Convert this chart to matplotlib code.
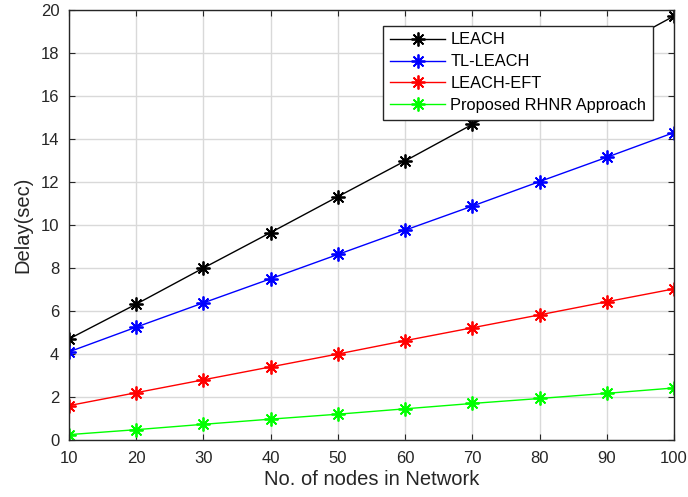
import matplotlib
matplotlib.use("Agg")
import matplotlib.pyplot as plt

plt.rcParams['font.family'] = ['Liberation Sans', 'DejaVu Sans']

nodes = [10, 20, 30, 40, 50, 60, 70, 80, 90, 100]
leach = [4.7, 6.32, 8.0, 9.65, 11.32, 12.98, 14.68, 16.35, 18.02, 19.72]
tl_leach = [4.1, 5.25, 6.38, 7.5, 8.63, 9.76, 10.88, 12.02, 13.15, 14.3]
leach_eft = [1.6, 2.2, 2.8, 3.4, 4.0, 4.62, 5.22, 5.82, 6.43, 7.03]
rhnr = [0.25, 0.48, 0.73, 0.97, 1.2, 1.45, 1.7, 1.93, 2.17, 2.42]

series = [
    ("LEACH", leach, "black"),
    ("TL-LEACH", tl_leach, "blue"),
    ("LEACH-EFT", leach_eft, "red"),
    ("Proposed RHNR Approach", rhnr, "#00ff00"),
]

# eight-armed asterisk marker
asterisk = (8, 2, 0)

fig = plt.figure(figsize=(6.88, 4.97), dpi=100)
ax = fig.add_axes([0.1003, 0.1147, 0.8794, 0.8652])

for label, vals, color in series:
    ax.plot(nodes, vals, color=color, marker=asterisk, markersize=10, linewidth=1,
            markeredgewidth=1.3, label=label)

ax.set_xlim(10, 100)
ax.set_ylim(0, 20)
ax.set_xticks(range(10, 101, 10))
ax.set_yticks(range(0, 21, 2))
ax.grid(True, color='#d9d9d9', linewidth=1)
ax.set_axisbelow(True)
ax.tick_params(direction='in', top=True, right=True, labelsize=12,
               colors='#262626', length=4)
ax.tick_params(axis='x', pad=8)
ax.tick_params(axis='y', pad=7)
for s in ax.spines.values():
    s.set_color('#262626')
    s.set_linewidth(1)
ax.set_xlabel("No. of nodes in Network", fontsize=14.5, color='#262626', labelpad=3)
ax.set_ylabel("Delay(sec)", fontsize=14.5, color='#262626', labelpad=6)

leg = ax.legend(loc='upper right', bbox_to_anchor=(0.965, 0.963), fontsize=11.8,
                handlelength=3.4, frameon=True, fancybox=False, edgecolor='#262626',
                framealpha=1, borderpad=0.4, labelspacing=0.42, handletextpad=0.3,
                borderaxespad=0)
leg.get_frame().set_linewidth(1)

fig.savefig("out.png", dpi=100)
